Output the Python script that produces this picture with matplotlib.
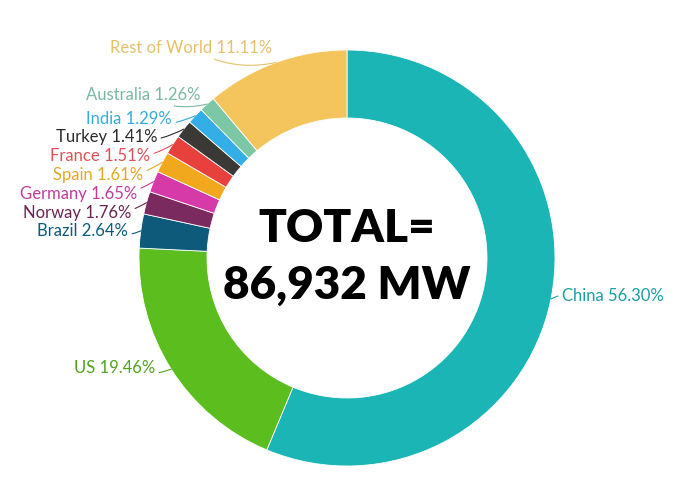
import numpy as np
import matplotlib
matplotlib.use('Agg')
import matplotlib.pyplot as plt

countries = ['China', 'US', 'Brazil', 'Norway', 'Germany', 'Spain', 'France',
             'Turkey', 'India', 'Australia', 'Rest of World']
shares = [56.30, 19.46, 2.64, 1.76, 1.65, 1.61, 1.51, 1.41, 1.29, 1.26, 11.11]
colors = ['#1bb5b5', '#5cbd1e', '#0d5a7a', '#7a2a5e', '#d63aa8', '#f2a81d',
          '#e8413d', '#3b3935', '#33aee6', '#7cc7a6', '#f4c55c']
label_colors = ['#1a9fa5', '#4fa31e', '#0d5a7a', '#6a2350', '#c23c99', '#e0a92a',
                '#e0505a', '#2e2c2a', '#3aa9dc', '#7ab8a6', '#e6c06a']
# label anchor (pixel) positions: x of text edge, y centre
label_pos = [(562, 296), (155, 368), (128, 231), (131, 213), (137, 194), (143, 175),
             (150, 156), (157, 137), (172, 119), (200, 95), (272, 48)]

H = 504
cx, cy, R, W = 347, H - 258, 208, 68

fig = plt.figure(figsize=(7, 5.04), dpi=100)
ax = fig.add_axes([0, 0, 1, 1])

wedges, _ = ax.pie(shares, colors=colors, startangle=90, counterclock=False,
                   center=(cx, cy), radius=R, frame=True,
                   wedgeprops=dict(width=W, edgecolor='white', linewidth=0.6))
ax.set_xlim(0, 700)
ax.set_ylim(0, H)
ax.set_aspect('equal')
ax.axis('off')

for w, name, s, c, (lx, ly) in zip(wedges, countries, shares, label_colors, label_pos):
    ang = np.deg2rad((w.theta1 + w.theta2) / 2)
    ex, ey = cx + R * np.cos(ang), cy + R * np.sin(ang)
    ha = 'left' if lx > cx else 'right'
    ax.annotate(f'{name} {s:.2f}%', xy=(ex, ey), xytext=(lx, H - ly),
                ha=ha, va='center', fontsize=12, color=c, family='Lato',
                arrowprops=dict(arrowstyle='-', color=c, lw=0.8,
                                connectionstyle='arc3,rad=0.2', shrinkA=1, shrinkB=0))

ax.text(cx, H - 228, 'TOTAL=', ha='center', va='center', fontsize=33,
        fontweight='heavy', family='Lato', color='black')
ax.text(cx, H - 285, '86,932 MW', ha='center', va='center', fontsize=33,
        fontweight='heavy', family='Lato', color='black')

fig.savefig('out.png', dpi=100)
